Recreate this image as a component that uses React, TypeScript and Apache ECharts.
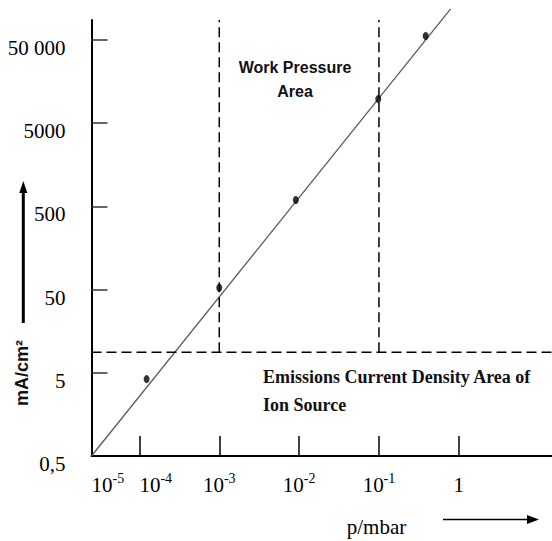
import React, { useEffect, useRef } from "react";
import * as echarts from "echarts";

// Pressure (mbar) and current density (mA/cm²) of the measured points
const measuredP = [1.23e-4, 1.0e-3, 9.1e-3, 0.098, 0.385];
const measuredJ = [4.2, 52.7, 597, 9770, 55800];

// End points of the fitted straight line (log-log)
const fitP = [2.51e-5, 0.79];
const fitJ = [0.5, 118000];

// Work pressure area limits and the emission current density threshold
const workPressureP = [1e-3, 1e-1];
const thresholdJ = 8.8;

// Axis extents and tick positions
const X_MIN = 2.51e-5;
const X_MAX = 14.7;
const Y_MIN = 0.5;
const Y_MAX = 86900;
const xTickValues = [1e-4, 1e-3, 1e-2, 1e-1, 1];
const xLabelValues = [X_MIN, 1e-4, 1e-3, 1e-2, 1e-1, 1];
const xLabelExponents = ["-5", "-4", "-3", "-2", "-1", ""];
// the two leftmost labels start at their positions, the others are centred
const xLeftLabelValues = xLabelValues.slice(0, 2);
const xCentredLabelValues = xLabelValues.slice(2);
const yTickValues = [5, 50, 500, 5000, 50000];
const yLabelValues = [0.5, 5, 50, 500, 5000, 50000];
const yLabelTexts = ["0,5", "5", "50", "500", "5000", "50 000"];

const SERIF = "'Liberation Serif', 'Times New Roman', serif";
const SANS = "'Liberation Sans', Arial, sans-serif";

function nearestIndex(values: number[], v: number) {
  let best = 0;
  let bestD = Infinity;
  values.forEach((x, i) => {
    const d = Math.abs(Math.log10(x) - Math.log10(v));
    if (d < bestD) {
      bestD = d;
      best = i;
    }
  });
  return best;
}

const powerLabel = (v: number) => {
  const i = nearestIndex(xLabelValues, v);
  if (xLabelExponents[i] === "") return "{b|1}";
  return `{b|10}{s|${xLabelExponents[i]}}`;
};

const powerRich = {
  b: {
    fontFamily: SERIF,
    fontSize: 21,
    color: "#000",
    lineHeight: 24,
    verticalAlign: "bottom",
  },
  s: {
    fontFamily: SERIF,
    fontSize: 14,
    color: "#000",
    lineHeight: 24,
    verticalAlign: "top",
  },
};

export default function App() {
  const ref = useRef<HTMLDivElement>(null);

  useEffect(() => {
    document.body.style.margin = "0";
    if (!ref.current) return;
    const chart = echarts.init(ref.current, null, { renderer: "svg" });

    const dashed = {
      color: "#000",
      width: 1.5,
      type: [10, 5] as number[],
    };

    chart.setOption({
      animation: false,
      backgroundColor: "#fff",
      grid: { left: 91.5, top: 20, right: 0, bottom: 85, containLabel: false },
      xAxis: [
        {
          type: "log",
          logBase: 10,
          position: "bottom",
          min: X_MIN,
          max: X_MAX,
          axisLine: { show: true, lineStyle: { color: "#000", width: 2 } },
          axisTick: {
            show: true,
            inside: true,
            length: 20,
            customValues: xTickValues,
            lineStyle: { color: "#000", width: 1.5 },
          },
          minorTick: { show: false },
          splitLine: { show: false },
          axisLabel: {
            show: true,
            margin: 15,
            customValues: xCentredLabelValues,
            formatter: powerLabel,
            rich: powerRich,
          },
        },
        {
          type: "log",
          logBase: 10,
          position: "bottom",
          min: X_MIN,
          max: X_MAX,
          axisLine: { show: false },
          axisTick: { show: false },
          minorTick: { show: false },
          splitLine: { show: false },
          axisLabel: {
            show: true,
            margin: 15,
            align: "left",
            customValues: xLeftLabelValues,
            formatter: powerLabel,
            rich: powerRich,
          },
        },
      ],
      yAxis: {
        type: "log",
        logBase: 10,
        min: Y_MIN,
        max: Y_MAX,
        axisLine: { show: true, lineStyle: { color: "#000", width: 2 } },
        axisTick: {
          show: true,
          inside: true,
          length: 16,
          customValues: yTickValues,
          lineStyle: { color: "#333", width: 1.5 },
        },
        minorTick: { show: false },
        splitLine: { show: false },
        axisLabel: {
          show: true,
          margin: 26,
          customValues: yLabelValues,
          fontFamily: SERIF,
          fontSize: 21,
          lineHeight: 16,
          verticalAlign: "top",
          color: "#000",
          formatter: (v: number) => yLabelTexts[nearestIndex(yLabelValues, v)],
        },
      },
      series: [
        {
          name: "fit",
          type: "line",
          data: fitP.map((p, i) => [p, fitJ[i]]),
          showSymbol: false,
          symbol: "none",
          clip: false,
          lineStyle: { color: "#5a5a5a", width: 1.3 },
          silent: true,
        },
        {
          name: "threshold",
          type: "line",
          data: [
            [X_MIN, thresholdJ],
            [X_MAX, thresholdJ],
          ],
          symbol: "none",
          lineStyle: dashed,
          silent: true,
        },
        ...workPressureP.map((p, i) => ({
          name: `limit${i}`,
          type: "line",
          data: [
            [p, thresholdJ],
            [p, Y_MAX],
          ],
          symbol: "none",
          lineStyle: dashed,
          silent: true,
        })),
        {
          name: "measured",
          type: "scatter",
          data: measuredP.map((p, i) => [p, measuredJ[i]]),
          symbol: "circle",
          symbolSize: [6, 8],
          itemStyle: { color: "#000" },
          z: 5,
        },
      ],
      graphic: [
        {
          type: "text",
          x: 295,
          y: 79,
          style: {
            text: "Work Pressure\nArea",
            fontFamily: SANS,
            fontWeight: "bold",
            fontSize: 16,
            lineHeight: 24,
            fill: "#111",
            align: "center",
            verticalAlign: "middle",
          },
        },
        {
          type: "text",
          x: 263,
          y: 391,
          style: {
            text: "Emissions Current Density Area of\nIon Source",
            fontFamily: SERIF,
            fontWeight: "bold",
            fontSize: 18,
            lineHeight: 28,
            fill: "#111",
            align: "left",
            verticalAlign: "middle",
          },
        },
        {
          type: "text",
          x: 22,
          y: 373,
          rotation: Math.PI / 2,
          style: {
            text: "mA/cm²",
            fontFamily: SANS,
            fontWeight: "bold",
            fontSize: 18,
            fill: "#111",
            align: "center",
            verticalAlign: "middle",
          },
        },
        {
          type: "line",
          shape: { x1: 23.3, y1: 323, x2: 23.3, y2: 190 },
          style: { stroke: "#000", lineWidth: 3 },
        },
        {
          type: "polygon",
          shape: {
            points: [
              [23.3, 181],
              [19.3, 193],
              [27.3, 193],
            ],
          },
          style: { fill: "#000" },
        },
        {
          type: "text",
          x: 376.5,
          y: 527,
          style: {
            text: "p/mbar",
            fontFamily: SERIF,
            fontSize: 21,
            fill: "#000",
            align: "center",
            verticalAlign: "middle",
          },
        },
        {
          type: "line",
          shape: { x1: 443, y1: 519.5, x2: 530, y2: 519.5 },
          style: { stroke: "#000", lineWidth: 1.5 },
        },
        {
          type: "polygon",
          shape: {
            points: [
              [539, 519.5],
              [527, 515],
              [527, 524],
            ],
          },
          style: { fill: "#000" },
        },
      ],
    });

    return () => chart.dispose();
  }, []);

  return <div ref={ref} style={{ width: 552, height: 541 }} />;
}
